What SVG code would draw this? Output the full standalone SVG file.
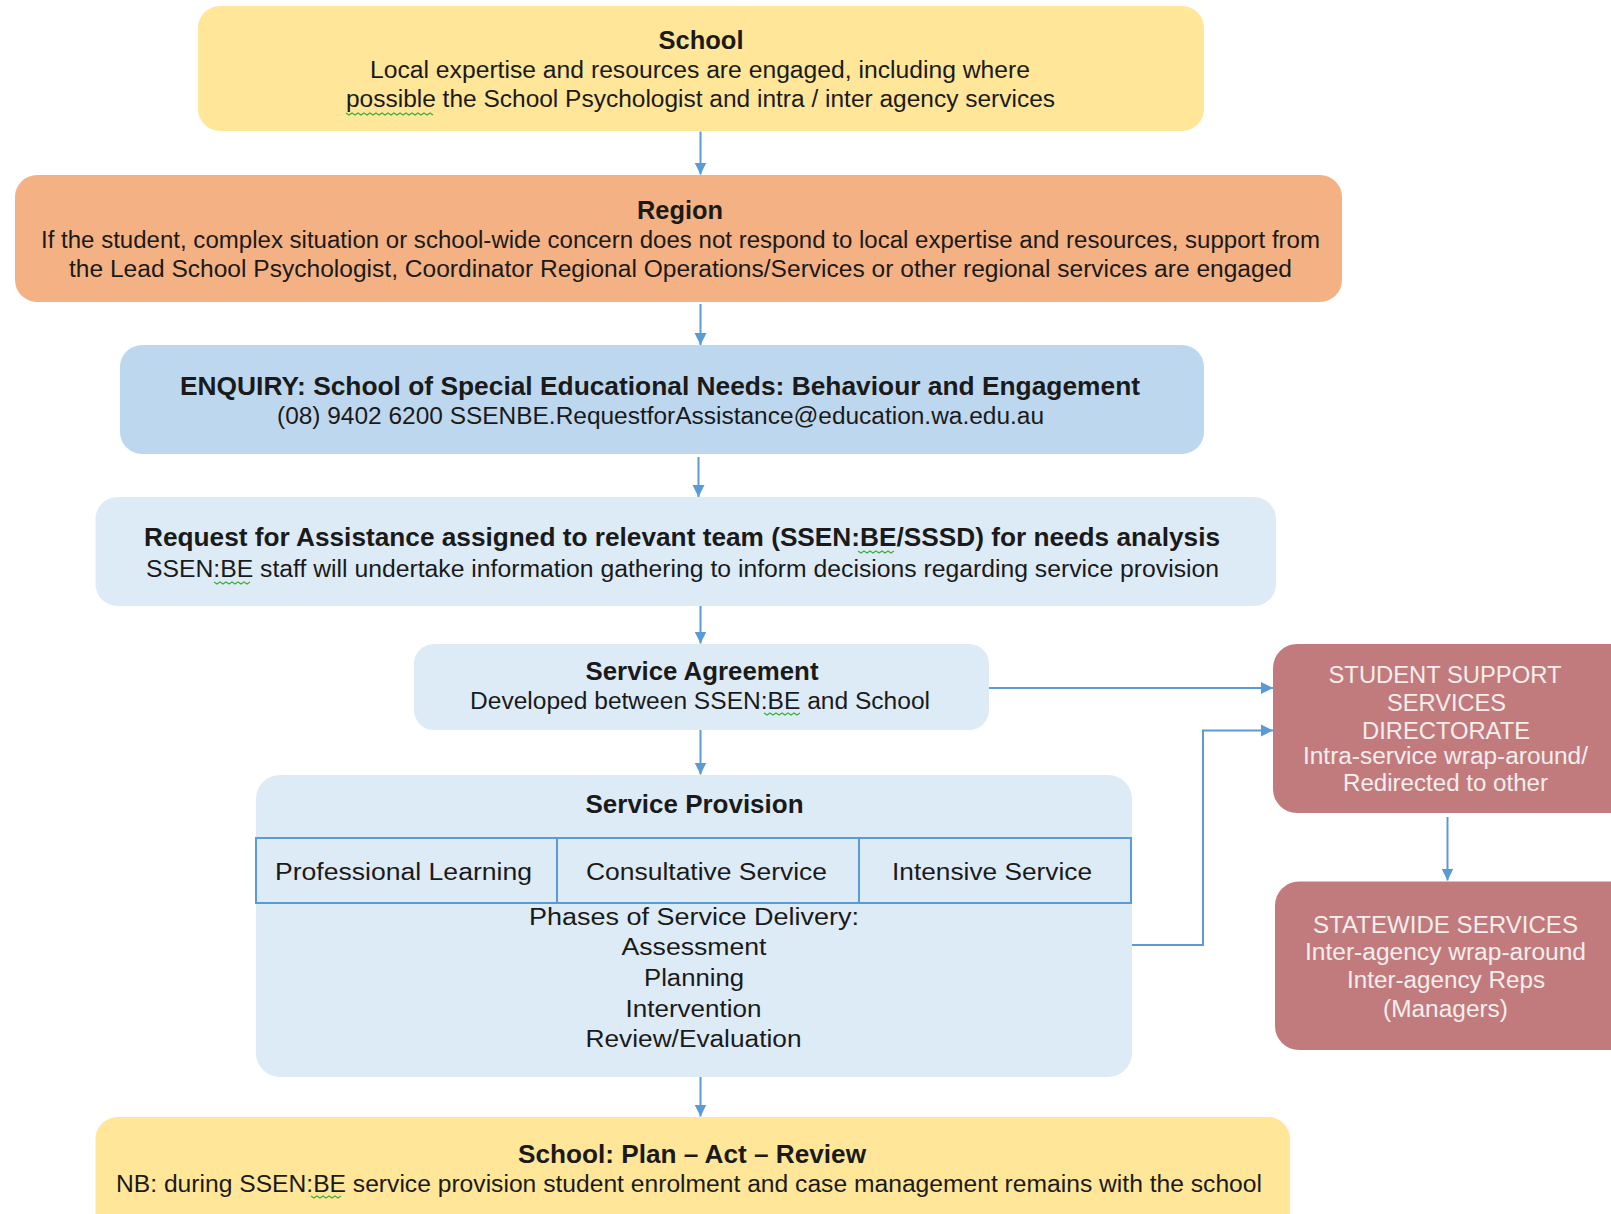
<svg xmlns="http://www.w3.org/2000/svg" width="1611" height="1214" viewBox="0 0 1611 1214">
<defs>
<marker id="ah" markerWidth="13" markerHeight="13" refX="12" refY="6.5" orient="auto" markerUnits="userSpaceOnUse">
<path d="M0,0.5 L12,6.5 L0,12.5 Z" fill="#5B9BD5"/>
</marker>
<style>
text{font-family:"Liberation Sans",Arial,sans-serif;fill:#1a1a1a;text-anchor:middle}
.t{font-size:25px;font-weight:bold}
.b{font-size:23px}
.w{font-size:23px;fill:#F4EEEE}
.c{stroke:#5B9BD5;stroke-width:2;fill:none}
.sq{stroke:#3fae3f;stroke-width:1.2;fill:none}
.cell{fill:#DDEBF7;stroke:#5B9BD5;stroke-width:2}
</style>
</defs>
<rect width="1611" height="1214" fill="#ffffff"/>

<g id="school">
<rect x="198" y="6" width="1006" height="125" rx="22" fill="#FFE699"/>
<text class="t" x="701" y="49" textLength="85" lengthAdjust="spacingAndGlyphs">School</text>
<text class="b" x="700" y="78" textLength="660" lengthAdjust="spacingAndGlyphs">Local expertise and resources are engaged, including where</text>
<text class="b" x="700.5" y="107" textLength="709" lengthAdjust="spacingAndGlyphs">possible the School Psychologist and intra / inter agency services</text>
<path class="sq" d="M346 113 l3 2 l3 -2 l3 2 l3 -2 l3 2 l3 -2 l3 2 l3 -2 l3 2 l3 -2 l3 2 l3 -2 l3 2 l3 -2 l3 2 l3 -2 l3 2 l3 -2 l3 2 l3 -2 l3 2 l3 -2 l3 2 l3 -2 l3 2 l3 -2 l3 2 l3 -2 l3 2"/>
</g>

<g id="region">
<rect x="15" y="175" width="1327" height="127" rx="22" fill="#F4B183"/>
<text class="t" x="680" y="219" textLength="86" lengthAdjust="spacingAndGlyphs">Region</text>
<text class="b" x="680.5" y="248" textLength="1279" lengthAdjust="spacingAndGlyphs">If the student, complex situation or school-wide concern does not respond to local expertise and resources, support from</text>
<text class="b" x="680.5" y="277" textLength="1223" lengthAdjust="spacingAndGlyphs">the Lead School Psychologist, Coordinator Regional Operations/Services or other regional services are engaged</text>
</g>

<g id="enquiry">
<rect x="120" y="345" width="1084" height="109" rx="22" fill="#BDD7EE"/>
<text class="t" x="660" y="395" textLength="960" lengthAdjust="spacingAndGlyphs">ENQUIRY: School of Special Educational Needs: Behaviour and Engagement</text>
<text class="b" x="660.5" y="424" textLength="767" lengthAdjust="spacingAndGlyphs">(08) 9402 6200 SSENBE.RequestforAssistance@education.wa.edu.au</text>
</g>

<g id="request">
<rect x="95.5" y="497" width="1180.5" height="109" rx="22" fill="#DDEBF7"/>
<text class="t" x="682" y="546" textLength="1076" lengthAdjust="spacingAndGlyphs">Request for Assistance assigned to relevant team (SSEN:BE/SSSD) for needs analysis</text>
<text class="b" x="682.5" y="577" textLength="1073" lengthAdjust="spacingAndGlyphs">SSEN:BE staff will undertake information gathering to inform decisions regarding service provision</text>
<path class="sq" d="M858 551 l3 2 l3 -2 l3 2 l3 -2 l3 2 l3 -2 l3 2 l3 -2 l3 2 l3 -2 l3 2 l3 -2"/>
<path class="sq" d="M214 582 l3 2 l3 -2 l3 2 l3 -2 l3 2 l3 -2 l3 2 l3 -2 l3 2 l3 -2 l3 2 l3 -2"/>
</g>

<g id="agreement">
<rect x="414" y="644" width="575" height="86" rx="20" fill="#DDEBF7"/>
<text class="t" x="702" y="680" textLength="233" lengthAdjust="spacingAndGlyphs">Service Agreement</text>
<text class="b" x="700" y="709" textLength="460" lengthAdjust="spacingAndGlyphs">Developed between SSEN:BE and School</text>
<path class="sq" d="M764 713 l3 2 l3 -2 l3 2 l3 -2 l3 2 l3 -2 l3 2 l3 -2 l3 2 l3 -2 l3 2 l3 -2"/>
</g>

<g id="provision">
<rect x="256" y="775" width="876" height="302" rx="24" fill="#DDEBF7"/>
<text class="t" x="694.5" y="813" textLength="218" lengthAdjust="spacingAndGlyphs">Service Provision</text>
<rect class="cell" x="256" y="838" width="301" height="65"/>
<rect class="cell" x="557" y="838" width="302" height="65"/>
<rect class="cell" x="859" y="838" width="272" height="65"/>
<text class="b" x="403.5" y="880" textLength="257" lengthAdjust="spacingAndGlyphs">Professional Learning</text>
<text class="b" x="706.5" y="880" textLength="241" lengthAdjust="spacingAndGlyphs">Consultative Service</text>
<text class="b" x="992" y="880" textLength="200" lengthAdjust="spacingAndGlyphs">Intensive Service</text>
<text class="b" x="694" y="925" textLength="330" lengthAdjust="spacingAndGlyphs">Phases of Service Delivery:</text>
<text class="b" x="694" y="955" textLength="145" lengthAdjust="spacingAndGlyphs">Assessment</text>
<text class="b" x="694" y="986" textLength="100" lengthAdjust="spacingAndGlyphs">Planning</text>
<text class="b" x="693.5" y="1017" textLength="136" lengthAdjust="spacingAndGlyphs">Intervention</text>
<text class="b" x="693.5" y="1047" textLength="216" lengthAdjust="spacingAndGlyphs">Review/Evaluation</text>
</g>

<g id="sssd">
<rect x="1273" y="644" width="360" height="169" rx="24" fill="#C27B7D"/>
<text class="w" x="1445" y="683" textLength="233" lengthAdjust="spacingAndGlyphs">STUDENT SUPPORT</text>
<text class="w" x="1446.5" y="711" textLength="119" lengthAdjust="spacingAndGlyphs">SERVICES</text>
<text class="w" x="1446" y="739" textLength="168" lengthAdjust="spacingAndGlyphs">DIRECTORATE</text>
<text class="w" x="1445.5" y="764" textLength="285" lengthAdjust="spacingAndGlyphs">Intra-service wrap-around/</text>
<text class="w" x="1445.5" y="791" textLength="205" lengthAdjust="spacingAndGlyphs">Redirected to other</text>
</g>

<g id="statewide">
<rect x="1275" y="881.5" width="360" height="168.5" rx="24" fill="#C27B7D"/>
<text class="w" x="1445.5" y="933" textLength="265" lengthAdjust="spacingAndGlyphs">STATEWIDE SERVICES</text>
<text class="w" x="1445.5" y="960" textLength="281" lengthAdjust="spacingAndGlyphs">Inter-agency wrap-around</text>
<text class="w" x="1446" y="988" textLength="198" lengthAdjust="spacingAndGlyphs">Inter-agency Reps</text>
<text class="w" x="1445.5" y="1017" textLength="125" lengthAdjust="spacingAndGlyphs">(Managers)</text>
</g>

<g id="plan">
<rect x="95.5" y="1117" width="1194.5" height="130" rx="22" fill="#FFE699"/>
<text class="t" x="692" y="1163" textLength="348" lengthAdjust="spacingAndGlyphs">School: Plan – Act – Review</text>
<text class="b" x="689" y="1192" textLength="1146" lengthAdjust="spacingAndGlyphs">NB: during SSEN:BE service provision student enrolment and case management remains with the school</text>
<path class="sq" d="M311 1196 l3 2 l3 -2 l3 2 l3 -2 l3 2 l3 -2 l3 2 l3 -2 l3 2 l3 -2"/>
</g>

<g id="connectors">
<path class="c" d="M700.5 131.5 V174.5" marker-end="url(#ah)"/>
<path class="c" d="M700.5 304 V345" marker-end="url(#ah)"/>
<path class="c" d="M698.5 457 V497" marker-end="url(#ah)"/>
<path class="c" d="M700.5 606 V643.5" marker-end="url(#ah)"/>
<path class="c" d="M989 688 H1273" marker-end="url(#ah)"/>
<path class="c" d="M700.5 730 V774.5" marker-end="url(#ah)"/>
<path class="c" d="M1132 945 H1203 V730.5 H1273" marker-end="url(#ah)"/>
<path class="c" d="M1447.5 817 V880.5" marker-end="url(#ah)"/>
<path class="c" d="M700.5 1077 V1116.5" marker-end="url(#ah)"/>
</g>
</svg>
